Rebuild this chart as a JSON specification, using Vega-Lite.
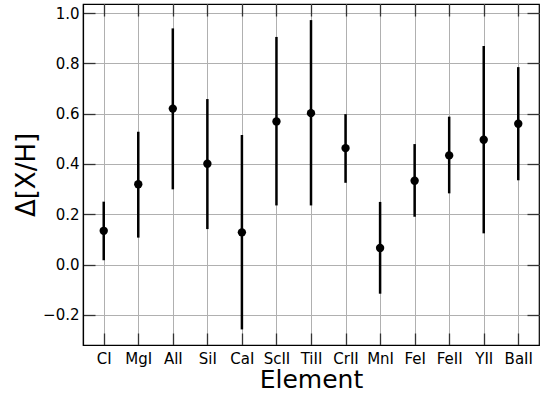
{
  "$schema": "https://vega.github.io/schema/vega-lite/v6.json",
  "autosize": {"type": "none"},
  "padding": {"left": 83, "top": 4, "right": 1, "bottom": 49},
  "width": 456,
  "height": 341,
  "background": "white",
  "config": {
    "view": {"stroke": "black", "strokeWidth": 1.2},
    "font": "DejaVu Sans",
    "axis": {
      "labelFont": "DejaVu Sans",
      "titleFont": "DejaVu Sans",
      "labelFontSize": 15,
      "titleFontSize": 25,
      "titleFontWeight": "normal",
      "labelColor": "black",
      "titleColor": "black",
      "domainColor": "black",
      "domainWidth": 1.2,
      "gridColor": "#b0b0b0",
      "gridWidth": 1,
      "gridOpacity": 1
    }
  },
  "data": {
    "values": [
      {"element": "CI", "value": 0.134, "lo": 0.017, "hi": 0.25},
      {"element": "MgI", "value": 0.319, "lo": 0.107, "hi": 0.528},
      {"element": "AlI", "value": 0.62, "lo": 0.299, "hi": 0.939},
      {"element": "SiI", "value": 0.401, "lo": 0.141, "hi": 0.658},
      {"element": "CaI", "value": 0.128, "lo": -0.258, "hi": 0.515},
      {"element": "ScII", "value": 0.569, "lo": 0.235, "hi": 0.905},
      {"element": "TiII", "value": 0.602, "lo": 0.235, "hi": 0.972},
      {"element": "CrII", "value": 0.463, "lo": 0.325, "hi": 0.598},
      {"element": "MnI", "value": 0.066, "lo": -0.116, "hi": 0.249},
      {"element": "FeI", "value": 0.333, "lo": 0.19, "hi": 0.479},
      {"element": "FeII", "value": 0.434, "lo": 0.283, "hi": 0.588},
      {"element": "YII", "value": 0.496, "lo": 0.124, "hi": 0.869},
      {"element": "BaII", "value": 0.56, "lo": 0.335, "hi": 0.785}
    ]
  },
  "layer": [
    {
      "mark": {"type": "point", "opacity": 0},
      "encoding": {
        "x": {"field": "element", "type": "nominal", "sort": null,
          "scale": {"type": "point", "padding": 0.6},
          "axis": {"orient": "bottom", "labels": false, "title": null, "grid": true, "domain": false, "ticks": false}},
        "y": {"field": "value", "type": "quantitative",
          "scale": {"domain": [-0.32, 1.036], "nice": false, "zero": false},
          "axis": {"orient": "left", "labels": false, "title": null, "grid": true, "domain": false, "ticks": false, "tickCount": 8}}
      }
    },
    {
      "mark": {"type": "rule", "color": "black", "strokeWidth": 2.5},
      "encoding": {
        "x": {
          "field": "element", "type": "nominal", "sort": null,
          "axis": {"orient": "bottom", "title": "Element", "labelAngle": 0, "labelPadding": 18, "titlePadding": 1, "grid": false,
            "ticks": true, "tickSize": -12, "tickColor": "#333333", "tickWidth": 1.3}
        },
        "y": {
          "field": "lo", "type": "quantitative",
          "axis": {"orient": "left", "title": "Δ[X/H]", "titleFontSize": 26, "tickCount": 8, "format": ".1f", "labelPadding": 16, "titlePadding": 3, "grid": false,
            "ticks": true, "tickSize": -12, "tickColor": "#333333", "tickWidth": 1.3}
        },
        "y2": {"field": "hi"}
      }
    },
    {
      "mark": {"type": "point", "filled": true, "color": "black", "opacity": 1, "size": 70},
      "encoding": {
        "x": {"field": "element", "type": "nominal", "sort": null,
          "axis": {"orient": "top", "labels": false, "title": null, "grid": false, "domain": false, "ticks": true, "tickSize": -12, "tickColor": "#333333", "tickWidth": 1.3}},
        "y": {"field": "value", "type": "quantitative",
          "axis": {"orient": "right", "labels": false, "title": null, "grid": false, "domain": false, "tickCount": 8, "ticks": true, "tickSize": -12, "tickColor": "#333333", "tickWidth": 1.3}}
      }
    }
  ],
  "resolve": {"axis": {"x": "independent", "y": "independent"}}
}
